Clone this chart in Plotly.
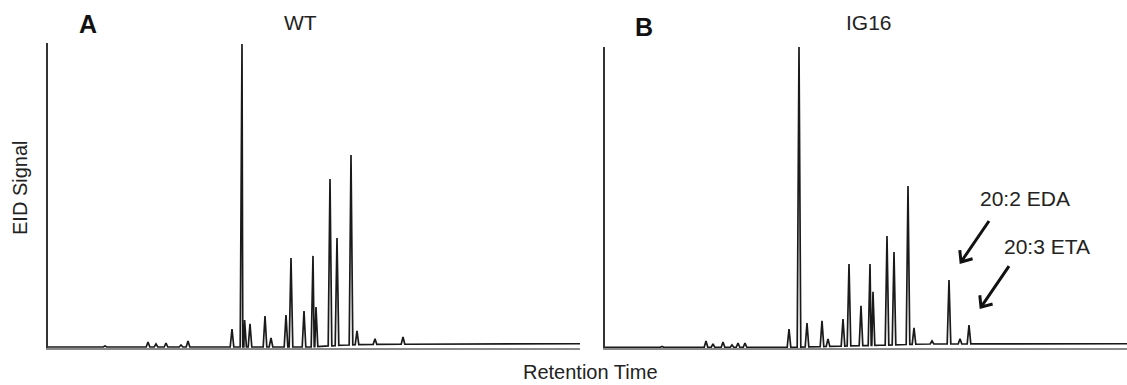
import numpy as np
import plotly.graph_objects as go

# ---- data (retention time in min, signal in % of full scale) ----
wt_times = [2.85, 5.0, 5.4, 5.9, 6.65, 7.0, 9.2, 9.7, 9.83, 10.1, 10.85, 11.15, 11.9,
            12.15, 12.8, 13.25, 13.4, 14.1, 14.45, 15.15, 15.45, 16.35, 17.75]
wt_heights = [0.66, 1.97, 1.31, 1.64, 0.98, 2.3, 6.2, 99.7, 9.2, 7.9, 10.5, 3.3, 10.8,
              29.5, 12.1, 30.2, 13.4, 55.4, 36.1, 63.3, 5.6, 3.0, 3.6]
wt_base_t = [0.0, 13.0, 14.7, 15.9, 26.6]
wt_base_v = [0.33, 0.33, 0.9, 1.2, 1.4]

ig_times = [2.85, 5.05, 5.4, 5.9, 6.35, 6.65, 7.0, 8.15, 9.2, 9.7, 10.1, 10.85, 11.15,
            11.9, 12.2, 12.8, 13.25, 13.4, 14.1, 14.45, 15.15, 15.45, 16.35, 17.2,
            17.75, 18.2]
ig_heights = [0.5, 2.3, 1.3, 2.0, 1.0, 1.6, 1.6, 0.3, 6.2, 98.7, 8.2, 8.9, 3.0,
              9.5, 27.5, 13.8, 27.5, 18.4, 36.7, 31.5, 53.1, 6.6, 2.3, 22.3,
              3.0, 7.5]
ig_base_t = [0.0, 9.5, 13.8, 15.9, 26.1]
ig_base_v = [0.25, 0.25, 0.9, 1.3, 1.4]

eda_peak = (17.2, 22.3)   # 20:2 EDA
eta_peak = (18.2, 7.5)    # 20:3 ETA

panel_titles = ["WT", "IG16"]
panel_letters = ["A", "B"]

HW = 0.09  # half width of a peak (min)


def chromatogram(times, heights, bt, bv):
    pts = list(zip(bt, bv))
    for t, h in zip(times, heights):
        for dt in (-HW, HW):
            pts.append((t + dt, float(np.interp(t + dt, bt, bv))))
        pts.append((t, h))
    pts.sort(key=lambda p: p[0])
    return [p[0] for p in pts], [p[1] for p in pts]


W, H = 1127, 385
fx = lambda px: px / W
fy = lambda py: 1 - py / H

fig = go.Figure()
ax, ay = chromatogram(wt_times, wt_heights, wt_base_t, wt_base_v)
bx, by = chromatogram(ig_times, ig_heights, ig_base_t, ig_base_v)
line = dict(color="#1a1a1a", width=1.7)
fig.add_trace(go.Scatter(x=ax, y=ay, mode="lines", line=line, xaxis="x", yaxis="y",
                         hoverinfo="skip", showlegend=False))
fig.add_trace(go.Scatter(x=bx, y=by, mode="lines", line=line, xaxis="x2", yaxis="y2",
                         hoverinfo="skip", showlegend=False))

axis_common = dict(showgrid=False, zeroline=False, showticklabels=False, ticks="",
                   fixedrange=True)
fig.update_layout(
    width=W, height=H, margin=dict(l=0, r=0, t=0, b=0),
    paper_bgcolor="white", plot_bgcolor="white",
    font=dict(family="Liberation Sans, Arial, sans-serif", color="#222"),
    xaxis=dict(domain=[fx(48), fx(580)], range=[0, 26.6], showline=True,
               linecolor="#8a8a8a", linewidth=1.5, **axis_common),
    yaxis=dict(domain=[fy(348), fy(43)], range=[0, 100], showline=True,
               linecolor="#333", linewidth=1.5, **axis_common),
    xaxis2=dict(domain=[fx(605), 1.0], range=[0, 26.1], showline=True,
                linecolor="#8a8a8a", linewidth=1.5, anchor="y2", **axis_common),
    yaxis2=dict(domain=[fy(348), fy(47)], range=[0, 98.7], showline=True,
                linecolor="#333", linewidth=1.5, anchor="x2", **axis_common),
)


def label(text, px, py, size, **kw):
    return dict(text=text, x=fx(px), y=fy(py), xref="paper", yref="paper",
                xanchor="center", yanchor="middle", showarrow=False,
                font=dict(size=size, color=kw.pop("color", "#222")), **kw)


ann = []
for title, letter, tx, lx, ly in zip(panel_titles, panel_letters, [300, 869], [88, 644], [24, 27]):
    ann.append(label(title, tx, 22, 21))
    ann.append(label("<b>%s</b>" % letter, lx, ly, 25, color="#111"))
ann.append(label("EID Signal", 20, 188, 20, textangle=-90))
ann.append(label("Retention Time", 590, 372, 20))
ann.append(dict(text="20:2 EDA", x=eda_peak[0], y=eda_peak[1], xref="x2", yref="y2",
                xshift=76, yshift=81, showarrow=False, font=dict(size=21)))
ann.append(dict(text="20:3 ETA", x=eta_peak[0], y=eta_peak[1], xref="x2", yref="y2",
                xshift=78, yshift=79, showarrow=False, font=dict(size=21)))
fig.update_layout(annotations=ann)

# open-chevron arrows, positioned in pixels relative to the annotated peaks
tail = np.array([40.0, 59.0])
tip = np.array([12.0, 18.0])
back = (tail - tip) / np.linalg.norm(tail - tip)
legs = []
for ang in (np.radians(40), np.radians(-40)):
    rot = np.array([[np.cos(ang), -np.sin(ang)], [np.sin(ang), np.cos(ang)]])
    legs.append(tip + 12 * rot @ back)
path = "M %.1f,%.1f L %.1f,%.1f L %.1f,%.1f M %.1f,%.1f L %.1f,%.1f" % (
    legs[0][0], legs[0][1], tip[0], tip[1], legs[1][0], legs[1][1],
    tip[0], tip[1], tail[0], tail[1])
for px_, py_ in (eda_peak, eta_peak):
    fig.add_shape(type="path", path=path, xref="x2", yref="y2",
                  xsizemode="pixel", ysizemode="pixel", xanchor=px_, yanchor=py_,
                  line=dict(color="#111", width=3))

fig.write_html("out.html")
